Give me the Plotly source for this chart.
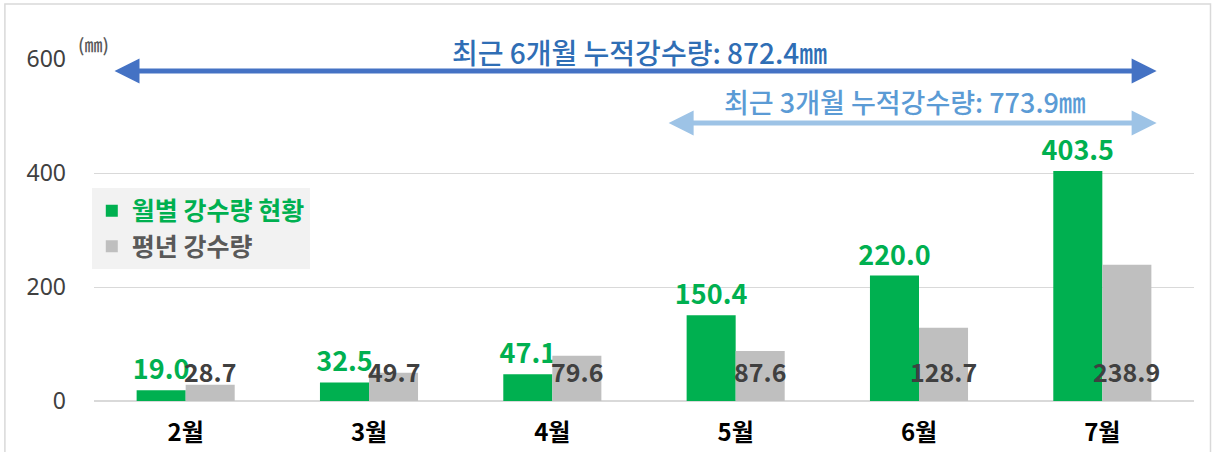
import plotly.graph_objects as go

months = ["2월", "3월", "4월", "5월", "6월", "7월"]
monthly_rain = [19.0, 32.5, 47.1, 150.4, 220.0, 403.5]
normal_rain = [28.7, 49.7, 79.6, 87.6, 128.7, 238.9]
y_ticks = [0, 200, 400, 600]
label_6m = "최근 6개월 누적강수량: 872.4㎜"
label_3m = "최근 3개월 누적강수량: 773.9㎜"
unit_label = "(㎜)"

FONT = "Noto Sans CJK KR"
GREEN = "#00B050"
GRAY = "#BFBFBF"
BARGAP = 0.465

fig = go.Figure()
fig.add_trace(go.Bar(
    x=months, y=monthly_rain,
    name="<b><span style='color:#00B050'>월별 강수량 현황</span></b>",
    marker=dict(color=GREEN, line=dict(width=0)),
    text=[f"{v:.1f}" for v in monthly_rain],
    textposition="outside", cliponaxis=False, constraintext="none",
    textfont=dict(family=FONT, size=27, color=GREEN, weight="bold"),
))
fig.add_trace(go.Bar(
    x=months, y=normal_rain,
    name="<b><span style='color:#595959'>평년 강수량</span></b>",
    marker=dict(color=GRAY, line=dict(width=0)),
))

# gray value labels near the base of the gray bars
offset = (1 - BARGAP) / 4
for i, v in enumerate(normal_rain):
    fig.add_annotation(
        x=i + offset, y=0, xref="x", yref="y",
        text=f"<b>{v:.1f}</b>", showarrow=False,
        xanchor="center", yanchor="bottom", yshift=10,
        font=dict(family=FONT, size=25, color="#404040"),
    )

# double-headed arrows
fig.add_annotation(
    x=0.966, y=0.965, ax=0.0173, ay=0.965,
    xref="x domain", yref="y domain", axref="x domain", ayref="y domain",
    text="", showarrow=True, arrowside="end+start", arrowhead=2,
    arrowwidth=5, arrowsize=1.0, arrowcolor="#4472C4",
)
fig.add_annotation(
    x=0.966, y=0.813, ax=0.521, ay=0.813,
    xref="x domain", yref="y domain", axref="x domain", ayref="y domain",
    text="", showarrow=True, arrowside="end+start", arrowhead=2,
    arrowwidth=5, arrowsize=1.0, arrowcolor="#9DC3E6",
)
fig.add_annotation(
    x=0.496, y=1.02, xref="paper", yref="paper", text=label_6m,
    xanchor="center", yanchor="middle",
    showarrow=False, font=dict(family=FONT, size=28, color="#2F6EB5", weight=500),
)
fig.add_annotation(
    x=0.737, y=0.877, xref="paper", yref="paper", text=label_3m,
    xanchor="center", yanchor="middle",
    showarrow=False, font=dict(family=FONT, size=27, color="#5B9BD5", weight=500),
)
fig.add_annotation(
    x=-0.0165, y=1.045, xref="paper", yref="paper", text=unit_label,
    xanchor="left", yanchor="middle",
    showarrow=False, font=dict(family=FONT, size=18, color="#595959", weight=500),
)

# outer border
fig.add_shape(
    type="rect", xref="paper", yref="paper",
    x0=-0.081, x1=1.015, y0=-0.2, y1=1.161,
    line=dict(color="#D9D9D9", width=1.5), fillcolor="rgba(0,0,0,0)", layer="below",
)

fig.update_layout(
    width=1218, height=452,
    margin=dict(l=94, r=24, t=59, b=51, autoexpand=False),
    paper_bgcolor="white", plot_bgcolor="white",
    barmode="group", bargap=BARGAP, bargroupgap=0,
    font=dict(family=FONT),
    showlegend=True,
    legend=dict(
        x=-0.002, y=0.623, xanchor="left", yanchor="top",
        bgcolor="#F2F2F2", borderwidth=0,
        font=dict(family=FONT, size=25),
        itemclick=False, tracegroupgap=0,
    ),
    xaxis=dict(
        type="category", showgrid=False, showline=False, automargin=False,
        ticks="outside", ticklen=10, tickcolor="rgba(0,0,0,0)",
        tickfont=dict(family=FONT, size=24, color="#000000", weight="bold"),
    ),
    yaxis=dict(
        range=[0, 600], tickvals=y_ticks, showgrid=True, automargin=False,
        gridcolor="#D9D9D9", gridwidth=1, zeroline=True, zerolinecolor="#D9D9D9",
        showline=False, ticks="", ticklabelstandoff=27,
        tickfont=dict(family="Noto Sans", size=23, color="#404040"),
    ),
)

fig.write_html("out.html")
